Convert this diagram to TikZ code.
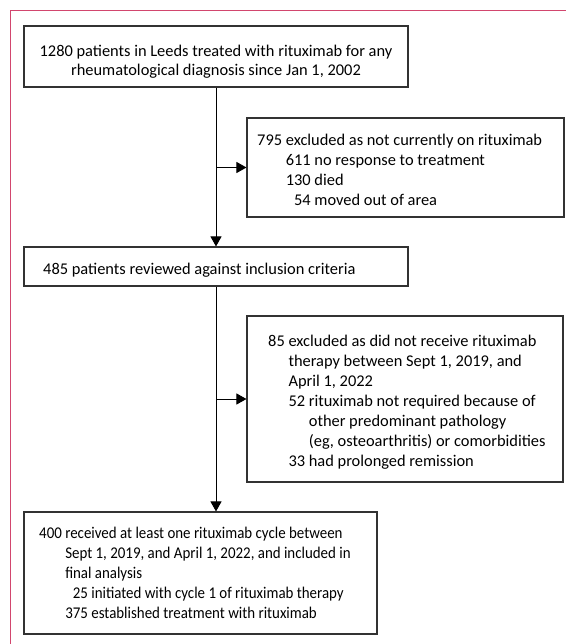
\documentclass[tikz,border=0pt]{standalone}
\usepackage{fontspec}
\setmainfont{Carlito}
\usetikzlibrary{arrows.meta}
\definecolor{framepink}{RGB}{210,70,110}
\definecolor{boxgray}{RGB}{50,50,50}
\begin{document}
\begin{tikzpicture}[x=1pt,y=-1pt,
  box/.style={draw=boxgray,line width=1.1pt,inner sep=0pt},
  txt/.style={inner sep=0pt,anchor=base west,font=\fontsize{16.4}{20}\selectfont},
  ctxt/.style={inner sep=0pt,anchor=base,font=\fontsize{16.4}{19}\selectfont},
  conn/.style={line width=1pt,-{Triangle[length=10pt,width=11pt]}},
  ]
\useasboundingbox (0,0) rectangle (566,644);
\draw[framepink,line width=1pt] (10,644) -- (10,11) -- (566,11);
% boxes
\node[box, minimum width=384pt, minimum height=61pt] (b1) at (216,56.5) {};
\node[box, minimum width=317pt, minimum height=99pt] (b2) at (405.5,167.5) {};
\node[box, minimum width=384pt, minimum height=39pt] (b3) at (216,266.5) {};
\node[box, minimum width=316pt, minimum height=166pt] (b4) at (405,399) {};
\node[box, minimum width=353pt, minimum height=122pt] (b5) at (200.5,573) {};
% texts
\node[ctxt] (t1) at (216,57) {\begin{tabular}[t]{@{}c@{}}1280 patients in Leeds treated with rituximab for any\\ rheumatological diagnosis since Jan 1, 2002\end{tabular}};
\node[txt] (t2) at (257,146) {\begin{tabular}[t]{@{}r@{\ }r@{\ }l@{}}
795 & \multicolumn{2}{@{}l@{}}{excluded as not currently on rituximab}\\
 & 611 & no response to treatment\\
 & 130 & died\\
 & 54 & moved out of area
\end{tabular}};
\node[txt] (t3) at (43,274) {485 patients reviewed against inclusion criteria};
\node[txt] (t4) at (268,346) {\begin{tabular}[t]{@{}r@{\ }r@{\ }l@{}}
85 & \multicolumn{2}{@{}l@{}}{excluded as did not receive rituximab}\\
 & \multicolumn{2}{@{}l@{}}{therapy between Sept 1, 2019, and}\\
 & \multicolumn{2}{@{}l@{}}{April 1, 2022}\\
 & 52 & rituximab not required because of\\
 & & other predominant pathology\\
 & & (eg, osteoarthritis) or comorbidities\\
 & 33 & had prolonged remission
\end{tabular}};
\node[txt] (t5) at (39,538) {\scalebox{0.91}[1]{\begin{tabular}[t]{@{}r@{\ }r@{\ }l@{}}
400 & \multicolumn{2}{@{}l@{}}{received at least one rituximab cycle between}\\
 & \multicolumn{2}{@{}l@{}}{Sept 1, 2019, and April 1, 2022, and included in}\\
 & \multicolumn{2}{@{}l@{}}{final analysis}\\
 & 25 & initiated with cycle 1 of rituximab therapy\\
 & 375 & established treatment with rituximab
\end{tabular}}};
% connectors
\draw[conn] (b1.south) -- (b3.north);
\draw[conn] (b3.south) -- (b3.south |- b5.north);
\draw[conn] (b1.south |- b2.west) -- (b2.west);
\draw[conn] (b1.south |- b4.west) -- (b4.west);
\end{tikzpicture}
\end{document}
